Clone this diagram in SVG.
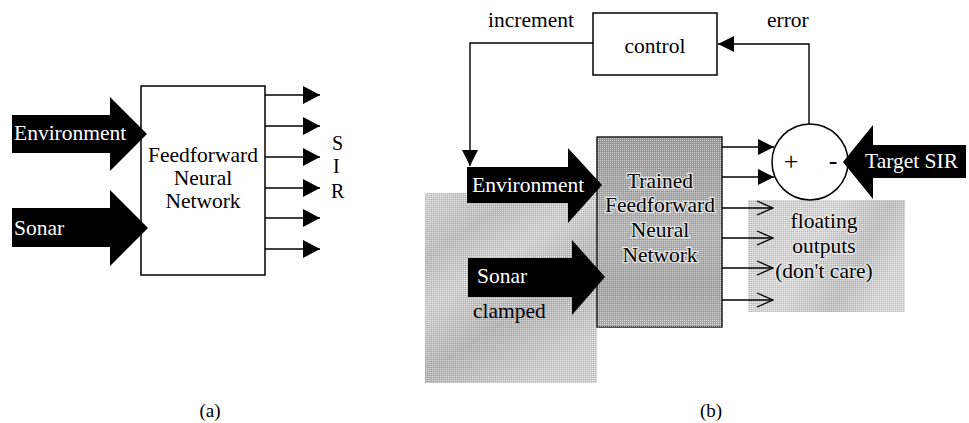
<svg xmlns="http://www.w3.org/2000/svg" width="969" height="423" viewBox="0 0 969 423" font-family="'Liberation Serif', 'Times New Roman', serif">
<style>
text{font-family:"Liberation Serif","Times New Roman",serif;font-size:21.5px;fill:#000}
.w{fill:#fff}
.c{text-anchor:middle}
.h{stroke:#e6e6e6;stroke-width:2.5px;paint-order:stroke;stroke-linejoin:round}
.ln{stroke:#000;stroke-width:1.4;fill:none}
.blk{fill:#000}
.box{fill:#fff;stroke:#000;stroke-width:1.5}
</style>
<defs>
<marker id="tri" markerUnits="userSpaceOnUse" markerWidth="17" markerHeight="18" refX="17" refY="9" orient="auto">
<path d="M0,0 L17,9 L0,18 z" fill="#000"/>
</marker>
<marker id="tri2" markerUnits="userSpaceOnUse" markerWidth="16" markerHeight="16" refX="16" refY="8" orient="auto">
<path d="M0,0 L16,8 L0,16 z" fill="#000"/>
</marker>
<marker id="open" markerUnits="userSpaceOnUse" markerWidth="18" markerHeight="16" refX="17" refY="8" orient="auto">
<path d="M1,1 L17,8 L1,15" fill="none" stroke="#000" stroke-width="1.3"/>
</marker>
<pattern id="dots" width="2" height="2" patternUnits="userSpaceOnUse">
<rect x="0" y="0" width="1" height="1" fill="#fff" opacity="0.5"/>
<rect x="1" y="1" width="1" height="1" fill="#000" opacity="0.1"/>
</pattern>
<linearGradient id="clampG" x1="0" y1="0" x2="0.6" y2="1">
<stop offset="0" stop-color="#d2d2d2"/>
<stop offset="0.25" stop-color="#bcbcbc"/>
<stop offset="0.45" stop-color="#d0d0d0"/>
<stop offset="0.7" stop-color="#b2b2b2"/>
<stop offset="1" stop-color="#cecece"/>
</linearGradient>
<linearGradient id="trainG" x1="0" y1="0" x2="0" y2="1">
<stop offset="0" stop-color="#989898"/>
<stop offset="0.5" stop-color="#b0b0b0"/>
<stop offset="0.8" stop-color="#a2a2a2"/>
<stop offset="1" stop-color="#aeaeae"/>
</linearGradient>
<linearGradient id="floatG" x1="0" y1="0" x2="1" y2="0.4">
<stop offset="0" stop-color="#cecece"/>
<stop offset="0.5" stop-color="#d6d6d6"/>
<stop offset="0.8" stop-color="#bebebe"/>
<stop offset="1" stop-color="#d4d4d4"/>
</linearGradient>
</defs>

<!-- (a) -->
<g id="a-network">
<rect class="box" x="141" y="86" width="124" height="189"/>
<text class="c" x="203" y="162">Feedforward</text>
<text class="c" x="203" y="185">Neural</text>
<text class="c" x="203" y="208">Network</text>
</g>
<g id="a-environment">
<polygon class="blk" points="12,115 110,115 110,97 147,134 110,171 110,153 12,153"/>
<text class="w" x="14" y="140">Environment</text>
</g>
<g id="a-sonar">
<polygon class="blk" points="12,208 110,208 110,190 148,228 110,266 110,247 12,247"/>
<text class="w" x="14" y="235">Sonar</text>
</g>
<g id="a-sir">
<text x="332" y="150" style="font-size:20px">S</text>
<text x="333" y="173" style="font-size:20px">I</text>
<text x="331" y="198" style="font-size:20px">R</text>
</g>
<g id="a-connectors">
<line class="ln" x1="265" y1="95" x2="320" y2="95" marker-end="url(#tri)"/>
<line class="ln" x1="265" y1="126" x2="320" y2="126" marker-end="url(#tri)"/>
<line class="ln" x1="265" y1="157" x2="320" y2="157" marker-end="url(#tri)"/>
<line class="ln" x1="265" y1="188" x2="320" y2="188" marker-end="url(#tri)"/>
<line class="ln" x1="265" y1="218" x2="320" y2="218" marker-end="url(#tri)"/>
<line class="ln" x1="265" y1="249" x2="320" y2="249" marker-end="url(#tri)"/>
</g>
<text class="c" x="210" y="417" style="font-size:19px">(a)</text>

<!-- (b) -->
<g id="b-clamped">
<rect x="425" y="193" width="172" height="190" fill="url(#clampG)"/>
<rect x="425" y="193" width="172" height="190" fill="url(#dots)"/>
<text x="473" y="318">clamped</text>
</g>
<g id="b-floating">
<rect x="748" y="200" width="157" height="112" fill="url(#floatG)"/>
<rect x="748" y="200" width="157" height="112" fill="url(#dots)"/>
<text class="c h" x="824" y="228">floating</text>
<text class="c h" x="824" y="253">outputs</text>
<text class="c h" x="824" y="278">(don't care)</text>
</g>
<g id="b-network">
<rect x="597" y="137" width="125" height="190" fill="url(#trainG)" stroke="#222" stroke-width="1.5"/>
<rect x="597" y="137" width="125" height="190" fill="url(#dots)"/>
<text class="c h" x="660" y="188">Trained</text>
<text class="c h" x="660" y="212">Feedforward</text>
<text class="c h" x="660" y="237">Neural</text>
<text class="c h" x="660" y="262">Network</text>
</g>
<g id="b-environment">
<polygon class="blk" points="467,167 568,167 568,148 602,185 568,223 568,203 467,203"/>
<text class="w" x="472" y="192">Environment</text>
</g>
<g id="b-sonar">
<polygon class="blk" points="468,258 572,258 572,240 605,277 572,315 572,297 468,297"/>
<text class="w" x="477" y="283">Sonar</text>
</g>
<g id="b-control">
<rect class="box" x="593" y="13" width="124" height="62"/>
<text class="c" x="655" y="53">control</text>
</g>
<g id="b-sum">
<circle cx="810" cy="162" r="38" fill="#fff" stroke="#000" stroke-width="1.5"/>
<text class="c" x="791" y="170" style="font-size:26px">+</text>
<text class="c" x="833" y="169" style="font-size:26px">-</text>
</g>
<g id="b-target">
<polygon class="blk" points="966,145 873,145 873,125 843,162 873,199 873,178 966,178"/>
<text class="w" x="865" y="168">Target SIR</text>
</g>
<g id="b-connectors">
<polyline class="ln" points="593,43 470,43 470,166" marker-end="url(#tri2)"/>
<polyline class="ln" points="809,124 809,44 718,44" marker-end="url(#tri2)"/>
<line class="ln" x1="722" y1="147" x2="774" y2="147" marker-end="url(#tri2)"/>
<line class="ln" x1="722" y1="177" x2="774" y2="177" marker-end="url(#tri2)"/>
<line class="ln" x1="722" y1="208" x2="773" y2="208" marker-end="url(#open)"/>
<line class="ln" x1="722" y1="238" x2="773" y2="238" marker-end="url(#open)"/>
<line class="ln" x1="722" y1="268" x2="773" y2="268" marker-end="url(#open)"/>
<line class="ln" x1="722" y1="300" x2="773" y2="300" marker-end="url(#open)"/>
</g>
<text x="488" y="27">increment</text>
<text x="767" y="27">error</text>
<text class="c" x="711" y="417" style="font-size:19px">(b)</text>
</svg>
